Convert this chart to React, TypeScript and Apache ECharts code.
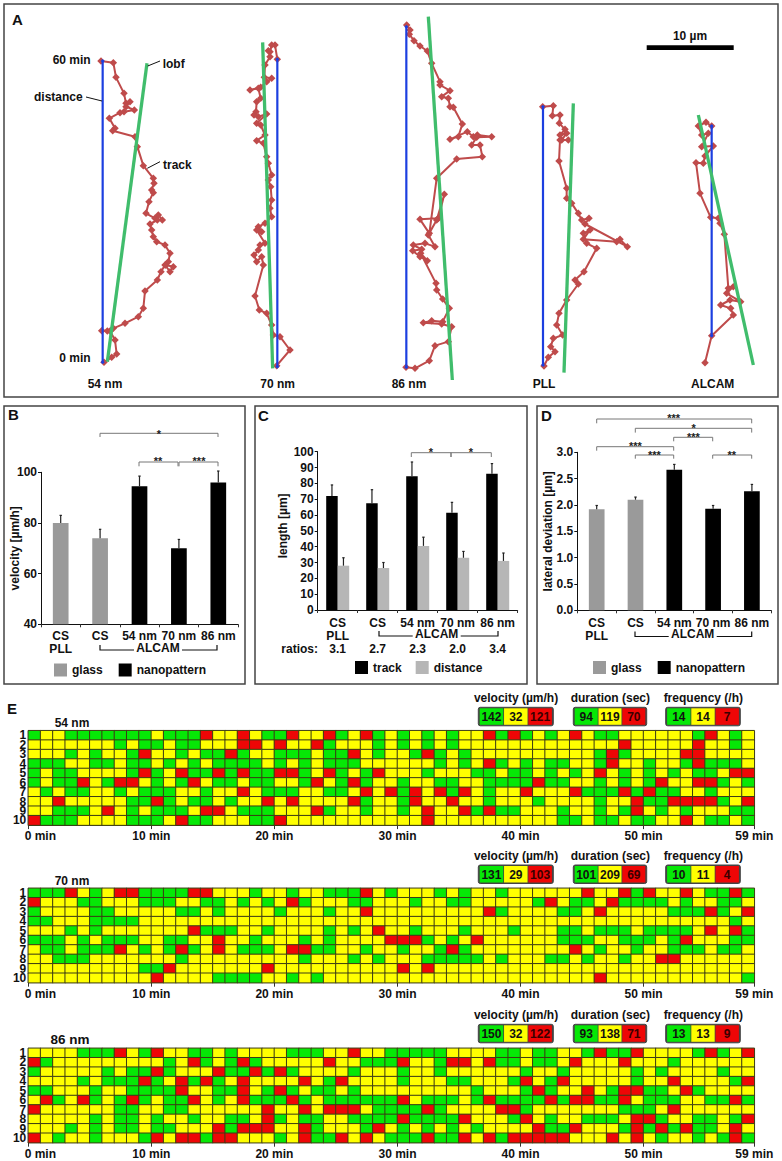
import React, { useEffect, useRef } from "react";
import * as echarts from "echarts";

const FONT = '"Liberation Sans", Arial, sans-serif';
const INK = "#111111";
const GLASS = "#9a9a9a";
const DIST = "#b6b6b6";
const GREEN = "#06e806";
const YELLOW = "#ffff00";
const RED = "#ee0606";
const CELL_LINE = "#3c3c14";

// ---------- Panel A: tracks, in units of 1/3 image pixel
const track54 = [[303,183],[340,188],[348,232],[372,280],[378,310],[390,305],[378,320],[403,330],[372,335],[360,338],[328,355],[345,385],[338,392],[405,410],[412,440],[430,497],[460,535],[462,550],[455,570],[460,578],[447,605],[438,640],[465,655],[475,645],[487,660],[472,660],[450,672],[455,690],[460,710],[470,725],[495,735],[510,760],[505,785],[497,795],[520,800],[510,815],[495,795],[483,815],[472,840],[435,873],[430,925],[415,950],[375,970],[340,985],[322,993],[305,992],[330,993],[345,1020],[350,1062],[335,1072],[312,1087]];
const track70 = [[832,178],[825,135],[815,135],[810,155],[805,152],[810,170],[795,195],[793,232],[815,235],[800,245],[782,262],[750,270],[775,265],[782,295],[770,305],[768,335],[762,345],[775,350],[800,342],[770,370],[782,375],[795,405],[770,422],[790,430],[800,470],[805,490],[815,525],[805,540],[812,560],[815,600],[810,625],[815,650],[795,670],[775,680],[785,695],[770,690],[795,730],[780,735],[775,750],[762,765],[770,785],[785,770],[790,795],[765,888],[778,930],[800,940],[815,975],[820,1005],[840,1010],[870,1050],[830,1097]];
const track86 = [[1220,75],[1230,90],[1228,103],[1242,122],[1260,138],[1282,153],[1295,190],[1320,245],[1320,255],[1350,272],[1325,290],[1345,295],[1350,320],[1360,322],[1387,372],[1375,410],[1350,418],[1402,395],[1420,410],[1432,405],[1475,410],[1430,412],[1415,435],[1440,435],[1447,470],[1370,477],[1310,535],[1288,700],[1260,658],[1315,655],[1333,583],[1310,660],[1285,705],[1305,740],[1275,730],[1240,735],[1265,748],[1238,752],[1260,770],[1282,782],[1262,760],[1308,850],[1310,870],[1328,897],[1348,925],[1328,965],[1295,962],[1270,968],[1325,972],[1355,980],[1345,1025],[1305,1037],[1288,1082],[1245,1105],[1218,1102]];
const trackPLL = [[1628,320],[1660,317],[1657,347],[1680,345],[1678,370],[1695,388],[1680,405],[1700,400],[1685,420],[1705,420],[1680,420],[1677,483],[1700,565],[1700,595],[1715,610],[1735,640],[1745,660],[1767,655],[1755,672],[1882,740],[1860,718],[1850,725],[1750,718],[1770,690],[1750,700],[1760,730],[1790,745],[1752,815],[1725,840],[1735,852],[1700,900],[1677,940],[1670,975],[1688,1005],[1660,1015],[1652,1040],[1665,1055],[1645,1072],[1632,1098]];
const trackALCAM = [[2135,378],[2118,367],[2095,378],[2105,405],[2125,400],[2105,440],[2140,438],[2115,468],[2110,490],[2088,488],[2100,580],[2132,652],[2155,655],[2160,670],[2173,703],[2185,865],[2200,860],[2180,880],[2222,905],[2190,900],[2162,915],[2192,925],[2200,945],[2135,1007],[2115,1088]];
const tracks = [track54, track70, track86, trackPLL, trackALCAM];
const distances = [[[308,183],[308,1087]],[[832,178],[832,1100]],[[1219,80],[1219,1102]],[[1629,320],[1629,1095]],[[2135,378],[2135,1007]]];
const fits = [[[441,190],[322,1085]],[[788,127],[818,1105]],[[1285,50],[1357,1140]],[[1720,310],[1692,1118]],[[2095,345],[2260,1095]]];
const trackLabels = ["54 nm", "70 nm", "86 nm", "PLL", "ALCAM"];

// ---------- Panels B, C, D
const groups = ["CS\nPLL", "CS", "54 nm", "70 nm", "86 nm"];
const velocityGlass = [80, 74, null, null, null];
const velocityNano = [null, null, 94.5, 70, 96];
const velocityBase = [80, 74, 94.5, 70, 96];
const velocityTop = [83, 77.5, 98.5, 73.5, 100.5];
const lengthTrack = [72, 67.5, 84.5, 61.5, 86];
const lengthTrackTop = [79, 76, 93.5, 68, 92.5];
const lengthDistance = [28, 26.5, 40.5, 33, 31];
const lengthDistanceTop = [33, 30, 46, 37, 36];
const ratios = ["3.1", "2.7", "2.3", "2.0", "3.4"];
const lateralGlass = [1.92, 2.1, null, null, null];
const lateralNano = [null, null, 2.67, 1.93, 2.26];
const lateralBase = [1.92, 2.1, 2.67, 1.93, 2.26];
const lateralTop = [1.99, 2.15, 2.77, 1.99, 2.39];

// ---------- Panel E: G fast, Y medium, R slow; ten rows of 59 minutes
const heat54 = [
  "GYYGGGGGGG YGGGRYYRYG GRYYRGYRGY GYGYGYYRGR GYGYRYGGYY YYYYGRYGY",
  "YYYYYYYGYG GYGGYYYRRY RYYRGYYYGY GYGYGYYYYY YYYYYYYYRY YYYYRYYGY",
  "YYYGYGYYGR YYGYGGRGYY GGGYGGRYGY YGRGYGYYYY YYYYYYGRGY YYYRRYYYY",
  "GGGYYGGYGG YGYGYGGGGY GYGYGGGYYY YYYGYGYRGY GYGGYYGRYY GYYGRGGGY",
  "GYGGYYYYGR GYRGGRGRGG RRGYRGYGRY YYGYYYGGYG GYGYGYRYGY GYGYGGYRR",
  "GYGGRYGRRY GYGRYGGYGG YYGRYGRGYY GYYGGYYGGG GRGGYYGYGY GRYYRRGYG",
  "YGYGGYYGYG GGYYGYYRYG GGYYGGYRYR GRYRGRYGYY RYYYRGGGRG RGGYYGYYY",
  "YYRYYYYYGG RGYGGYGYYR YRYYYYRGYY GRYYRYYGYY YGYYYYGYYR GGRRRRGYR",
  "YYGGGYRYGY GGGYRRYGGG YYYRGYYGYY GYRYYRGRGG YYYGYYGYGR YGYGYYYGG",
  "RGGGYYYYGG GYRGGYYYGG RYYYYYYYYY YYRYYYYYYY YYYGGYGGYG GYYRYGGYG",
];
const heat70 = [
  "GGGRYGYRRG GGGRRYYYGY YGYYGGGRYG YYYGYGYYGY YYYYYRYYRG RYYRYGGRG",
  "RYYYGGYYYG GGYYGGYGYG YRGYYYGGYY YGYYGGYYYY YGRYGGYRGG GGYGYYGGY",
  "GYYYYGGYYY YYGGYGYYYY GYYYGYYRYY YYYYYYYRGY YYYGGYRYYY YYGGGRGYR",
  "GGYYYGGGGY YYYYYYYYYY YYYYYYYYYY YYYYYYYYYY YYYYYYYYYY YYYYYYYGY",
  "YYYGYGYYYY YYYRGGGYYG YYYYGYGYRY YGYYYGYYYG YYYGGYGGGY GGGGYRYRG",
  "GGGYGYGGGY YGGYYRYYGY YYGYGYYYYR RRGYGYRYYY YYYGGGYYGG GYGRYYYGG",
  "YGGYGGGRYG YGRGYRYGGG YRRGGYYGYY GYYGRGYYYY YYYYRYGYYG YYGGGYGGY",
  "YYGGGYYYYY YYGYYYYYYY YYGYYYGYGY YYGGGGGYGY YYGGYGYYGY YRRYYYYYY",
  "YYYYYYYYYG GRYYYYYYYR YYYYYYYYYY RYRYYYYYYY YYYYYYYYYY YYYYYYYYY",
  "YYYYYYYYYY RYYYYGGGGY YGYGYYYYYY YYYYYYYYYY YYYYYYRYYY YYYYYYYYG",
];
const heat86 = [
  "YYYYGGGRYG RYYGGYGYYY YGGGYYRYYG GGGGYYYYGG YGGYYGRGGR YYYYGRGYR",
  "RGYYYYYYYY YGYRGYGRGY YYYYRYYGGG RYYGRRYRGG YGGYRYYYRY YYGYYYYYY",
  "GYYYYYGYGG RGYYYRGGRG RGYYYYGYYY GYYGYYYYYY GYYGYYYYYG YGYYYYGYY",
  "YYYYGYGGGR GYRGRGYRYY YYRYGRYYYY GYYYGGYYYG RYGRYYYYYG YYRYYYYGR",
  "GGYYYGYYGG GGRYYGGRYG RGYGGYGYYY YYYYYYGYYY GRGYYRYGRR GGYRGYYYY",
  "YRGYRGYGRG YGGRYGYRGG GRGYGGGGGG RYGGGYGRGG GGRGRRGGRY GGGYYGGRG",
  "RYYYYYYGGY YGGYYYYYYR YYRYRRRYGG GGRGYYYYRR GYYYYYYYGG GYRYYYYYY",
  "YYYYYGYGGY GYYGYYGGYR GYGGYYGGGG RGGGGRYYYG RYGYYGGGYR RGYYGGYGR",
  "YYYGYGYGGY GGYYYRGRRR YYRGYYYGRY GYGYGYGYYY YRGGRYYYGR GRGRGGYRY",
  "RYGYYGYYYG RYRRGRRYYY GYRGGRYRYG GGRGGRYRGR RRRRYYYRYR YGYYGYGRG",
];
const heatTitles = ["54 nm", "70 nm", "86 nm"];
const velocityCounts = [[142, 32, 121], [131, 29, 103], [150, 32, 122]];
const durationCounts = [[94, 119, 70], [101, 209, 69], [93, 138, 71]];
const frequencyCounts = [[14, 14, 7], [10, 11, 4], [13, 13, 9]];
const rowLabels = ["1", "2", "3", "4", "5", "6", "7", "8", "9", "10"];
const minutes = Array.from({ length: 59 }, (_, i) => String(i));
const levelOf: Record<string, number> = { G: 0, Y: 1, R: 2 };

// ---------- graphic helpers
const txt = (x: number, y: number, text: string, o: any = {}) => ({
  type: "text", x, y, rotation: o.rotation || 0, z: 20, silent: true,
  style: {
    text, fill: o.fill || INK,
    font: `${o.weight || "bold"} ${o.size || 12}px ${FONT}`,
    align: o.align || "center", verticalAlign: "middle",
    textAlign: o.align || "center", textVerticalAlign: "middle",
  },
});
const seg = (pts: number[][], stroke = INK, lineWidth = 1) => ({
  type: "polyline", z: 15, silent: true, shape: { points: pts }, style: { stroke, lineWidth, fill: "none" },
});
const frame = (x: number, y: number, w: number, h: number) => ({
  type: "rect", z: 0, silent: true, shape: { x, y, width: w, height: h }, style: { fill: "#fff", stroke: "#444", lineWidth: 1.5 },
});
const bracket = (x1: number, x2: number, y: number, drop: number, stars: string, sx: number, sy: number) => [
  seg([[x1, y + drop], [x1, y], [x2, y], [x2, y + drop]], "#777", 1),
  txt(sx, sy + 2.5, stars, { size: 11, fill: "#222" }),
];
const underBracket = (x1: number, x2: number, y: number, cx: number, cy: number) => [
  seg([[x1, y], [x1, y + 5], [cx - 24, y + 5]], INK, 1.2),
  seg([[cx + 24, y + 5], [x2, y + 5], [x2, y]], INK, 1.2),
  txt(cx, cy, "ALCAM"),
];
const countBox = (x: number, y: number, w: number, counts: number[]) => {
  const h = 18.5;
  const cw = (w - 2) / 3;
  const colors = [GREEN, YELLOW, RED];
  const out: any[] = [
    { type: "rect", z: 10, silent: true, shape: { x, y, width: w, height: h, r: 2 }, style: { fill: "#444", stroke: "#444", lineWidth: 1 } },
  ];
  counts.forEach((c, i) => {
    out.push({ type: "rect", z: 11, silent: true, shape: { x: x + 1 + i * cw + 0.4, y: y + 1, width: cw - 0.8, height: h - 2 }, style: { fill: colors[i] } });
    out.push(txt(x + 1 + i * cw + cw / 2, y + h / 2 + 0.5, String(c), { fill: i === 2 ? "#3a0000" : INK }));
  });
  return out;
};

const labelStyle = { fontFamily: FONT, fontWeight: "bold", fontSize: 12, color: INK };

const catAxis = (gridIndex: number, margin: number) => ({
  type: "category", gridIndex, data: groups,
  axisLine: { show: true, onZero: false, lineStyle: { color: INK, width: 1 } },
  axisTick: { show: true, length: 3, lineStyle: { color: "#333" } },
  axisLabel: { ...labelStyle, margin, interval: 0, lineHeight: 13 },
  splitLine: { show: false },
});
const valAxis = (gridIndex: number, min: number, max: number, interval: number, name: string, nameGap: number, decimals: number, namePad: number[] = [0, 0, 0, 0]) => ({
  type: "value", gridIndex, min, max, interval, name, nameLocation: "middle", nameGap, nameRotate: 90, nameMoveOverlap: false,
  nameTextStyle: { ...labelStyle, padding: namePad },
  axisLine: { show: true, lineStyle: { color: INK, width: 1 } },
  axisTick: { show: true, length: 3, lineStyle: { color: INK } },
  axisLabel: { ...labelStyle, margin: 4, formatter: (v: number) => v.toFixed(decimals) },
  splitLine: { show: false },
});
const errorSeries = (axis: number, bases: number[], tops: number[], dodge: number) => ({
  type: "custom", xAxisIndex: axis, yAxisIndex: axis, silent: true, z: 5,
  data: tops.map((t, i) => [i, bases[i], t]),
  encode: { x: 0, y: [1, 2] },
  renderItem: (_p: any, api: any) => {
    const a = api.coord([api.value(0), api.value(1)]);
    const b = api.coord([api.value(0), api.value(2)]);
    const x = a[0] + dodge;
    const style = { stroke: "#222", lineWidth: 1.2, fill: "none" };
    return {
      type: "group",
      children: [
        { type: "line", shape: { x1: x, y1: a[1], x2: x, y2: b[1] }, style },
        { type: "line", shape: { x1: x - 1.2, y1: b[1], x2: x + 1.2, y2: b[1] }, style },
      ],
    };
  },
});
const barSeries = (axis: number, name: string, data: any[], color: string, barWidth: number, barGap: string) => ({
  type: "bar", name, data, xAxisIndex: axis, yAxisIndex: axis, barWidth, barGap, itemStyle: { color }, silent: true,
});
const legendAt = (left: number, top: number, data: string[], itemGap: number) => ({
  show: true, left, top, data, itemGap, itemWidth: 13, itemHeight: 13, padding: 0, icon: "rect",
  selectedMode: false, textStyle: labelStyle, orient: "horizontal",
});

function buildOption() {
  const grid: any[] = [
    { left: 0, top: 0, width: 782, height: 400 },
    { left: 41, top: 472.3, width: 197, height: 152 },
    { left: 317.7, top: 451.7, width: 200, height: 158.3 },
    { left: 577.3, top: 452.3, width: 194, height: 158 },
  ];
  const xAxis: any[] = [
    { type: "value", gridIndex: 0, min: 0, max: 2346, show: false },
    catAxis(1, 5),
    catAxis(2, 6),
    catAxis(3, 6),
  ];
  const yAxis: any[] = [
    { type: "value", gridIndex: 0, min: 0, max: 1200, inverse: true, show: false },
    valAxis(1, 40, 100, 20, "velocity [µm/h]", 20, 0),
    valAxis(2, 0, 100, 10, "length [µm]", 29, 0, [0, 0, 0, 10]),
    valAxis(3, 0, 3, 0.5, "lateral deviation [µm]", 23, 1),
  ];
  const series: any[] = [];

  tracks.forEach((t, i) => {
    series.push({
      type: "line", name: `track ${trackLabels[i]}`, data: t, xAxisIndex: 0, yAxisIndex: 0, silent: true, z: 3,
      symbol: "diamond", symbolSize: 7.5, showAllSymbol: true, clip: false,
      lineStyle: { color: "#bf4b4b", width: 2 }, itemStyle: { color: "#bf4b4b" },
    });
  });
  distances.forEach((d, i) => {
    series.push({
      type: "line", name: `distance ${trackLabels[i]}`, data: d, xAxisIndex: 0, yAxisIndex: 0, silent: true, z: 4,
      symbol: "diamond", symbolSize: 4, showAllSymbol: true, lineStyle: { color: "#1c3fe0", width: 2.2 }, itemStyle: { color: "#1c3fe0" },
    });
  });
  fits.forEach((d, i) => {
    series.push({
      type: "line", name: `lobf ${trackLabels[i]}`, data: d, xAxisIndex: 0, yAxisIndex: 0, silent: true, z: 5,
      symbol: "none", lineStyle: { color: "#40bd6c", width: 3.3 },
    });
  });

  series.push(barSeries(1, "glass", velocityGlass, GLASS, 15.7, "-100%"));
  series.push(barSeries(1, "nanopattern", velocityNano, "#000", 15.7, "-100%"));
  series.push(errorSeries(1, velocityBase, velocityTop, 0));

  series.push(barSeries(2, "track", lengthTrack, "#000", 11.5, "0%"));
  series.push(barSeries(2, "distance", lengthDistance, DIST, 11.5, "0%"));
  series.push(errorSeries(2, lengthTrack, lengthTrackTop, -5.75));
  series.push(errorSeries(2, lengthDistance, lengthDistanceTop, 5.75));

  series.push(barSeries(3, "glass", lateralGlass, GLASS, 15.7, "-100%"));
  series.push(barSeries(3, "nanopattern", lateralNano, "#000", 15.7, "-100%"));
  series.push(errorSeries(3, lateralBase, lateralTop, 0));

  const heatTops = [730.7, 888.3, 1048.3];
  const heatIdx: number[] = [];
  [heat54, heat70, heat86].forEach((rows, h) => {
    const g = grid.length;
    grid.push({ left: 28.3, top: heatTops[h], width: 726, height: 94.4 });
    const catX = xAxis.length;
    xAxis.push({ type: "category", gridIndex: g, data: minutes, show: false });
    xAxis.push({
      type: "value", gridIndex: g, min: 0, max: 59, interval: 10, position: "bottom",
      axisLine: { show: true, onZero: false, lineStyle: { color: "#333" } },
      axisTick: { show: true, length: 4, lineStyle: { color: "#333" } },
      splitLine: { show: false },
      axisLabel: {
        ...labelStyle, margin: 5,
        formatter: (v: number) => (v === 0 ? "{z|0 min}" : `${v} min`),
        rich: { z: { ...labelStyle, padding: [0, 0, 0, 24] } },
      },
    });
    const yi = yAxis.length;
    yAxis.push({
      type: "category", gridIndex: g, data: rowLabels, inverse: true,
      axisLine: { show: false }, axisTick: { show: false },
      axisLabel: { ...labelStyle, margin: 2, interval: 0 },
    });
    const data: number[][] = [];
    rows.forEach((r, ri) => {
      r.replace(/ /g, "").split("").forEach((c, ci) => data.push([ci, ri, levelOf[c]]));
    });
    heatIdx.push(series.length);
    series.push({
      type: "heatmap", name: heatTitles[h], data, xAxisIndex: catX, yAxisIndex: yi, silent: true,
      itemStyle: { borderColor: CELL_LINE, borderWidth: 1 },
    });
  });

  const elements: any[] = [
    frame(4, 4, 774, 393), frame(4, 406, 241, 278), frame(255, 406, 272, 278), frame(537, 406, 241, 278),
    txt(12, 19, "A", { size: 15, align: "left" }),
    txt(8, 414, "B", { size: 15, align: "left" }),
    txt(258, 415, "C", { size: 15, align: "left" }),
    txt(541, 415, "D", { size: 15, align: "left" }),
    txt(7, 708, "E", { size: 15, align: "left" }),
    txt(90.7, 60, "60 min", { align: "right" }),
    txt(90.7, 358, "0 min", { align: "right" }),
    txt(34, 97, "distance", { align: "left" }),
    txt(162.7, 64, "lobf", { align: "left" }),
    txt(163, 165, "track", { align: "left" }),
    seg([[86, 97], [102, 101]]), seg([[147.7, 66], [160, 61]]), seg([[147.3, 168.3], [160, 161.7]]),
    txt(105, 384, trackLabels[0]), txt(277.7, 384, trackLabels[1]), txt(409, 384, trackLabels[2]),
    txt(544, 384, trackLabels[3]), txt(712.7, 384, trackLabels[4]),
    txt(690, 36, "10 µm"),
    { type: "rect", z: 15, silent: true, shape: { x: 646.7, y: 45.3, width: 87, height: 4.7 }, style: { fill: "#000" } },

    ...bracket(100, 218, 433.3, 3.7, "*", 159, 431),
    ...bracket(139, 178, 462, 4.3, "**", 158, 458.5),
    ...bracket(179, 218, 462, 4.3, "***", 199, 458.5),
    ...underBracket(100, 217, 645, 158, 648),

    ...bracket(411.3, 451, 452.7, 4.3, "*", 431, 449),
    ...bracket(451, 491.3, 452.7, 4.3, "*", 471, 449),
    ...underBracket(379, 498, 631, 436.7, 634),
    txt(318, 649, "ratios:", { align: "right" }),
    ...ratios.map((r, i) => txt(337.7 + i * 40, 649, r)),

    ...bracket(596.7, 751.7, 419, 4.3, "***", 673.7, 415.7),
    ...bracket(635.3, 751.7, 428.3, 4.3, "*", 693.7, 425),
    ...bracket(673.7, 712.7, 437.3, 4, "***", 693.3, 434.7),
    ...bracket(596.7, 673.7, 446.7, 4, "***", 635.3, 443.7),
    ...bracket(635.3, 673.7, 455, 3.7, "***", 654.3, 452.3),
    ...bracket(712.7, 751.7, 455, 3.7, "**", 731.7, 452),
    ...underBracket(635, 751.7, 631.5, 692.7, 634),

    txt(72, 722.7, heatTitles[0]), txt(72, 880.7, heatTitles[1]),
    txt(70, 1039.3, heatTitles[2], { size: 13.5 }),
  ];
  const titleYs = [697.7, 856, 1015.3];
  const boxYs = [707.3, 865, 1024.3];
  titleYs.forEach((y, i) => {
    elements.push(txt(516, y, "velocity (µm/h)"), txt(610.3, y, "duration (sec)"), txt(703.3, y, "frequency (/h)"));
    elements.push(...countBox(478.3, boxYs[i], 75, velocityCounts[i]));
    elements.push(...countBox(573.3, boxYs[i], 73.4, durationCounts[i]));
    elements.push(...countBox(665.7, boxYs[i], 74.6, frequencyCounts[i]));
  });

  return {
    animation: false,
    backgroundColor: "#fff",
    textStyle: { fontFamily: FONT },
    tooltip: { show: false },
    grid, xAxis, yAxis, series,
    legend: [
      legendAt(54, 663.5, ["glass", "nanopattern"], 16),
      legendAt(355, 661, ["track", "distance"], 14),
      legendAt(593, 661, ["glass", "nanopattern"], 16),
    ],
    visualMap: {
      type: "piecewise", show: false, dimension: 2, seriesIndex: heatIdx,
      pieces: [
        { value: 0, color: GREEN },
        { value: 1, color: YELLOW },
        { value: 2, color: RED },
      ],
    },
    graphic: { elements },
  };
}

export default function App() {
  const ref = useRef<HTMLDivElement>(null);
  useEffect(() => {
    const chart = echarts.init(ref.current!, undefined, { renderer: "svg", width: 782, height: 1161 });
    chart.setOption(buildOption() as any);
    return () => chart.dispose();
  }, []);
  return <div ref={ref} style={{ position: "absolute", left: 0, top: 0, width: 782, height: 1161 }} />;
}
